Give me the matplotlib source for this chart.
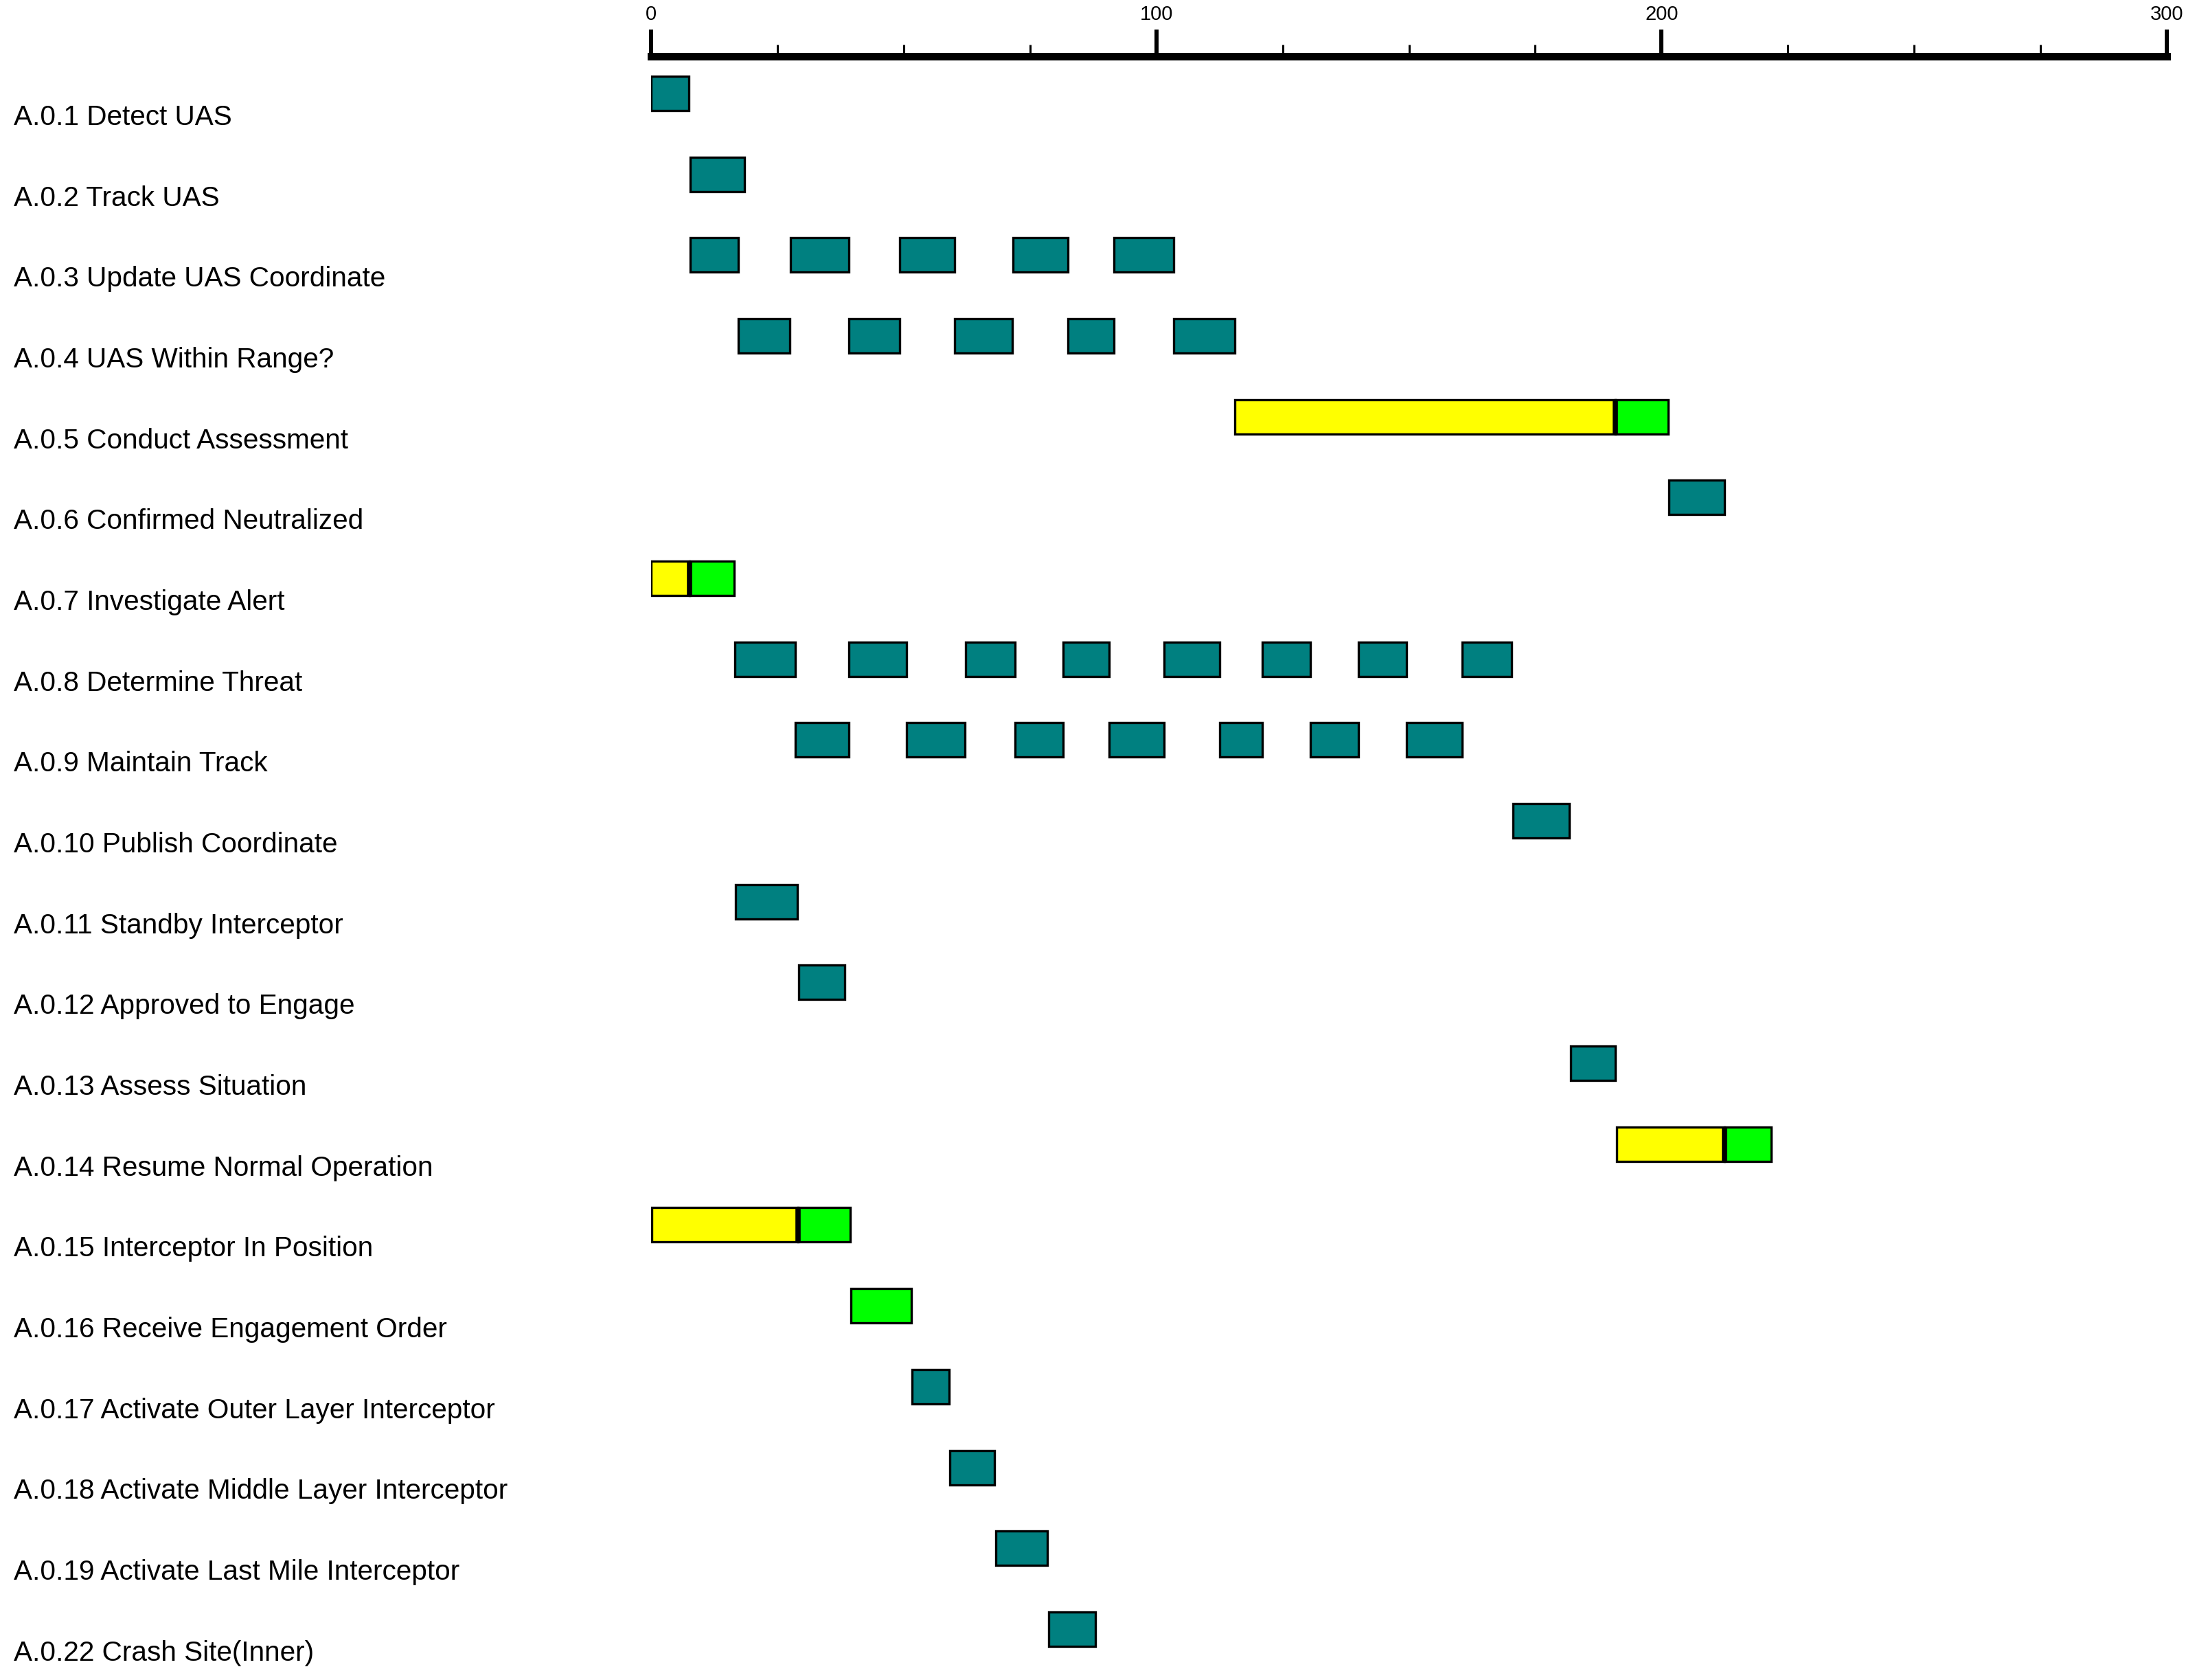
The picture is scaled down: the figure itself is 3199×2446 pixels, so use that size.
import matplotlib
matplotlib.use("Agg")
from matplotlib import pyplot as plt
from matplotlib.ticker import MultipleLocator, FixedLocator
from matplotlib.transforms import blended_transform_factory

plt.rcParams['font.family'] = ['Liberation Sans', 'DejaVu Sans']

# 任务名称（从上到下）
labels = [
    "A.0.1 Detect UAS", "A.0.2 Track UAS", "A.0.3 Update UAS Coordinate",
    "A.0.4 UAS Within Range?", "A.0.5 Conduct Assessment",
    "A.0.6 Confirmed Neutralized", "A.0.7 Investigate Alert",
    "A.0.8 Determine Threat", "A.0.9 Maintain Track",
    "A.0.10 Publish Coordinate", "A.0.11 Standby Interceptor",
    "A.0.12 Approved to Engage", "A.0.13 Assess Situation",
    "A.0.14 Resume Normal Operation", "A.0.15 Interceptor In Position",
    "A.0.16 Receive Engagement Order", "A.0.17 Activate Outer Layer Interceptor",
    "A.0.18 Activate Middle Layer Interceptor",
    "A.0.19 Activate Last Mile Interceptor", "A.0.22 Crash Site(Inner)",
]

# 执行段（青色）：行号、开始、结束
teal_row = [0, 1,
            2, 2, 2, 2, 2,
            3, 3, 3, 3, 3,
            5,
            7, 7, 7, 7, 7, 7, 7, 7,
            8, 8, 8, 8, 8, 8, 8,
            9, 10, 11, 12, 16, 17, 18, 19]
teal_start = [0.0, 7.7,
              7.7, 27.6, 49.2, 71.6, 91.6,
              17.2, 39.1, 60.1, 82.5, 103.5,
              201.5,
              16.6, 39.2, 62.2, 81.5, 101.6, 121.0, 140.0, 160.6,
              28.6, 50.5, 72.0, 90.6, 112.5, 130.5, 149.5,
              170.6, 16.7, 29.2, 182.0, 51.6, 59.1, 68.2, 78.7]
teal_end = [7.5, 18.5,
            17.2, 39.1, 60.1, 82.5, 103.5,
            27.5, 49.2, 71.5, 91.6, 115.5,
            212.4,
            28.6, 50.5, 72.0, 90.6, 112.5, 130.5, 149.5, 170.3,
            39.1, 62.1, 81.5, 101.6, 121.0, 140.0, 160.5,
            181.8, 29.0, 38.4, 190.9, 59.0, 68.0, 78.4, 87.9]

# 等待段（黄色）
yellow_row = [4, 6, 13, 14]
yellow_start = [115.6, 0.0, 191.1, 0.2]
yellow_end = [190.8, 7.6, 212.4, 29.1]

# 完成段（绿色）
green_row = [4, 6, 13, 14, 15]
green_start = [190.8, 7.6, 212.4, 29.1, 39.6]
green_end = [201.3, 16.4, 221.7, 39.4, 51.5]

W, H = 3199, 2446
fig = plt.figure(figsize=(W / 100, H / 100), dpi=100)
ax = fig.add_axes([948 / W, 0, (3155 - 948) / W, (H - 82) / H])

bar_h = 0.425
edge_lw = 2.4

def draw(rows, starts, ends, color):
    widths = [e - s for s, e in zip(starts, ends)]
    ax.barh(rows, widths, left=starts, height=bar_h, color=color,
            edgecolor='black', linewidth=edge_lw, zorder=2)

draw(teal_row, teal_start, teal_end, '#008080')
draw(yellow_row, yellow_start, yellow_end, '#FFFF00')
draw(green_row, green_start, green_end, '#00FF00')

# 黄绿分界线
ax.vlines(yellow_end, [r - bar_h / 2 for r in yellow_row],
          [r + bar_h / 2 for r in yellow_row], color='black', linewidth=5.5, zorder=3)

ax.set_xlim(0, 300)
ax.set_ylim(19.63, -0.459)

for s in ['left', 'right', 'bottom']:
    ax.spines[s].set_visible(False)
ax.spines['top'].set_linewidth(7.9)
ax.xaxis.tick_top()
ax.xaxis.set_major_locator(FixedLocator([0, 100, 200, 300]))
ax.xaxis.set_minor_locator(MultipleLocator(25))
ax.tick_params(axis='x', which='major', length=28, width=4.3, pad=5.5,
               labelsize=21, colors='black')
ax.tick_params(axis='x', which='minor', length=12, width=2.2)
ax.set_yticks([])

trans = blended_transform_factory(fig.transFigure, ax.transData)
for i, name in enumerate(labels):
    ax.text(20 / W, i + 0.39, name, transform=trans, fontsize=29.2,
            ha='left', va='baseline', color='black', clip_on=False)

fig.savefig("out.png", dpi=100, facecolor='white')
